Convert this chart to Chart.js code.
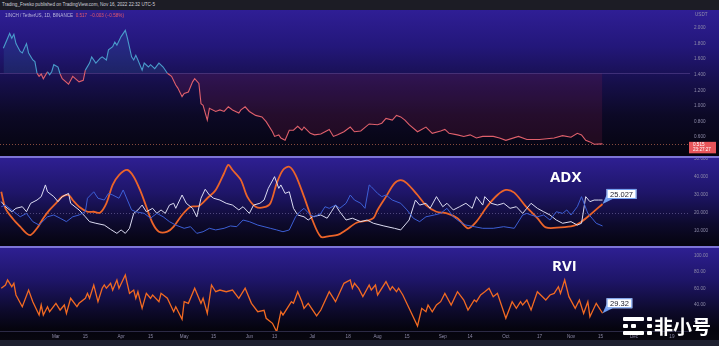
<!DOCTYPE html>
<html>
<head>
<meta charset="utf-8">
<script src="https://cdn.jsdelivr.net/npm/chart.js@4.4.0/dist/chart.umd.min.js"></script>
<style>
html, body { margin: 0; padding: 0; background: #0b0a14; }
#wrap { position: relative; width: 719px; height: 346px; overflow: hidden; background: #0b0a14;
        font-family: 'Liberation Sans', Arial, sans-serif; }
.pane { position: absolute; left: 0; width: 719px; }
#top { top: 0; height: 10px; background: #1c1c25; }
#p1 { top: 10px; height: 146px; background: linear-gradient(#2f1e95 0%, #23177a 25%, #160f4a 50%, #0c0926 72%, #05040e 100%); }
#p2 { top: 158px; height: 88px; background: linear-gradient(#2e1f92 0%, #1e1568 40%, #0d0a2c 75%, #05040e 100%); }
#p3 { top: 248px; height: 92px; background: linear-gradient(#2e1f92 0%, #1e1568 35%, #0d0a2c 68%, #05040e 88%, #08070f 100%); }
.sep { position: absolute; left: 0; width: 719px; height: 2px; background: #7d74d6; }
#bottom { top: 340px; height: 6px; background: #1e2030; }
.txt { position: absolute; white-space: nowrap; }
.title { position: absolute; color: #ffffff; font-family: 'Open Sans', sans-serif; font-weight: 700; font-size: 15px; }
#logo { position: absolute; left: 623px; top: 315px; width: 92px; height: 22px; }
#logo .b { position: absolute; background: #ffffff; border-radius: 1px; }
#logo .cn { position: absolute; left: 31px; top: -3px; color: #ffffff; font-family: 'Noto Sans CJK SC', sans-serif;
            font-weight: 700; font-size: 19px; letter-spacing: 0px; }
</style>
</head>
<body>
<div id="wrap">
  <div class="pane" id="top"></div>
  <div class="txt" style="left:2px;top:2px;font-size:4.6px;color:#d0d0da;">Trading_Fresko published on TradingView.com, Nov 16, 2022 22:32 UTC-5</div>
  <div class="pane" id="p1"><canvas id="c1" width="719" height="146"></canvas></div>
  <div class="sep" style="top:156px;"></div>
  <div class="pane" id="p2"><canvas id="c2" width="719" height="88"></canvas></div>
  <div class="sep" style="top:246px;"></div>
  <div class="pane" id="p3"><canvas id="c3" width="719" height="92"></canvas></div>
  <div class="pane" id="bottom"></div>
  <div class="txt" style="left:5px;top:13px;font-size:4.6px;color:#b9b5dc;">1INCH / TetherUS, 1D, BINANCE&nbsp;&nbsp;<span style="color:#e8596b;">0.517 &nbsp;−0.003 (−0.58%)</span></div>
  <div class="txt" style="left:695px;top:12px;font-size:4.6px;color:#8f8cab;">USDT</div>
  <div class="title" style="left:550px;top:166px;">ADX</div>
  <div class="title" style="left:552px;top:255px;">RVI</div>
  <div id="logo">
    <div class="b" style="left:0;top:2px;width:21px;height:4px;"></div>
    <div class="b" style="left:24px;top:2px;width:5px;height:4px;"></div>
    <div class="b" style="left:0;top:9px;width:5px;height:4px;"></div>
    <div class="b" style="left:8px;top:9px;width:5px;height:4px;"></div>
    <div class="b" style="left:24px;top:9px;width:5px;height:4px;"></div>
    <div class="b" style="left:0;top:16px;width:21px;height:4px;"></div>
    <div class="b" style="left:24px;top:16px;width:5px;height:4px;"></div>
    <div class="cn">非小号</div>
  </div>
</div>
<script>
// day numbers are days since Jan 1 2022 (Mar 1 = 59)
const priceDays = [34, 37, 38, 39, 40, 42, 43, 45, 46, 48, 49, 50, 51, 52, 53, 55, 56, 57, 58, 60, 61, 62, 65, 67, 70, 72, 73, 75, 76, 78,
  80, 81, 83, 84, 86, 87, 88, 90, 92, 93, 95, 96, 97, 98, 100, 101, 103, 104, 106, 108, 110, 112, 114, 116, 117, 119, 120, 122, 124, 125,
  127, 128, 129, 131, 132, 135, 137, 139, 141, 143, 146, 147, 149, 151, 154, 157, 159, 162, 163, 165, 166, 168, 170, 172, 174, 176, 177,
  180, 182, 185, 187, 189, 191, 193, 196, 199, 201, 204, 208, 212, 214, 216, 219, 221, 223, 225, 227, 231, 235, 238, 242, 244, 246, 250,
  253, 256, 259, 262, 267, 270, 273, 279, 283, 289, 296, 300, 304, 307, 309, 311, 313, 315, 319];
const priceValues = [1.74, 1.93, 1.87, 1.92, 1.80, 1.70, 1.68, 1.80, 1.68, 1.59, 1.57, 1.42, 1.38, 1.41, 1.35, 1.44, 1.40, 1.44, 1.53, 1.50,
  1.41, 1.35, 1.28, 1.38, 1.31, 1.33, 1.46, 1.55, 1.63, 1.55, 1.61, 1.63, 1.59, 1.72, 1.76, 1.82, 1.78, 1.89, 1.97, 1.87, 1.63, 1.59, 1.65,
  1.59, 1.46, 1.55, 1.50, 1.53, 1.48, 1.55, 1.50, 1.42, 1.38, 1.27, 1.23, 1.12, 1.16, 1.18, 1.31, 1.35, 1.29, 1.03, 1.01, 0.82, 0.97, 0.93,
  0.95, 0.93, 0.99, 0.95, 0.91, 0.95, 0.99, 0.93, 0.88, 0.86, 0.80, 0.67, 0.61, 0.63, 0.59, 0.56, 0.69, 0.69, 0.74, 0.69, 0.73, 0.65, 0.63,
  0.64, 0.67, 0.70, 0.61, 0.63, 0.67, 0.73, 0.67, 0.68, 0.77, 0.76, 0.78, 0.84, 0.82, 0.88, 0.86, 0.82, 0.76, 0.67, 0.73, 0.65, 0.68, 0.70,
  0.65, 0.63, 0.61, 0.63, 0.59, 0.61, 0.61, 0.59, 0.56, 0.61, 0.57, 0.57, 0.59, 0.62, 0.60, 0.65, 0.63, 0.56, 0.54, 0.51, 0.515];

const adxDays = [33, 35, 39, 42, 45, 47, 50, 53, 56, 59, 62, 65, 67, 70, 74, 77, 80, 83, 86, 89, 93, 96, 99, 102, 105, 108, 112, 115,
  119, 123, 127, 131, 135, 139, 141, 143, 147, 150, 154, 158, 161, 164, 167, 170, 173, 177, 181, 185, 189, 193, 197, 202, 207, 210, 212,
  216, 220, 223, 226, 231, 235, 240, 245, 250, 255, 259, 264, 269, 273, 277, 282, 288, 292, 299, 305, 309, 313, 319];
const adxValues = [31.8, 22.6, 16.1, 12.4, 8.7, 7.8, 11.5, 17.1, 21.7, 25.4, 29.1, 30.0, 27.2, 23.5, 20.7, 20.7, 20.2, 25.4, 35.6, 41.1,
  43.9, 40.2, 32.8, 23.5, 14.3, 9.6, 9.6, 12.4, 18.9, 23.5, 23.9, 28.2, 32.8, 42.1, 46.7, 43.9, 38.3, 29.1, 23.5, 23.2, 25.4, 36.5, 43.9,
  45.7, 41.1, 29.1, 16.1, 6.8, 7.2, 7.8, 10.6, 14.6, 15.7, 17.1, 21.7, 29.1, 36.5, 38.3, 36.5, 30.0, 24.4, 20.7, 19.8, 17.1, 11.5, 15.2,
  23.5, 30.0, 32.8, 31.3, 24.4, 17.1, 12.0, 12.0, 12.8, 15.2, 18.9, 25.027];

const diPlusDays = [33, 35, 38, 40, 43, 45, 47, 50, 52, 54, 55, 58, 60, 62, 65, 66, 70, 73, 75, 78, 82, 85, 88, 90, 92, 94, 96, 98, 100,
  102, 105, 107, 109, 111, 113, 115, 116, 119, 121, 124, 126, 128, 130, 132, 134, 137, 140, 143, 146, 148, 151, 153, 156, 158, 160, 163,
  165, 166, 168, 170, 172, 174, 177, 179, 181, 185, 188, 190, 192, 194, 197, 200, 204, 207, 210, 215, 220, 223, 227, 230, 232, 235, 237,
  240, 243, 245, 248, 251, 254, 257, 259, 262, 263, 266, 269, 272, 275, 278, 281, 283, 285, 288, 291, 294, 297, 300, 304, 307, 309, 311,
  313, 315, 317, 319];
const diPlusValues = [26.3, 23.5, 20.7, 22.6, 23.5, 20.7, 25.4, 27.2, 29.1, 35.6, 31.8, 29.1, 26.3, 29.1, 30.9, 25.4, 21.7, 17.9, 15.2,
  14.3, 13.3, 10.9, 8.7, 10.6, 8.7, 11.5, 19.8, 21.7, 24.4, 20.7, 22.6, 19.8, 21.7, 19.8, 24.4, 25.4, 22.6, 30.0, 25.4, 22.6, 17.9, 28.2,
  33.2, 30.0, 28.2, 27.2, 25.4, 24.4, 21.7, 23.5, 19.8, 24.4, 25.4, 27.2, 33.7, 40.2, 33.7, 35.6, 30.9, 31.8, 22.6, 18.9, 17.9, 16.1, 17.9,
  18.9, 17.1, 20.7, 24.4, 20.7, 16.1, 17.1, 15.2, 16.1, 14.3, 12.8, 11.5, 10.6, 16.1, 27.2, 24.4, 25.4, 22.6, 29.1, 23.5, 25.4, 21.7, 23.5,
  25.4, 22.6, 29.1, 24.4, 29.1, 25.4, 24.4, 25.4, 22.6, 23.5, 19.8, 22.6, 25.4, 22.6, 20.7, 18.9, 16.1, 14.3, 15.2, 13.3, 14.3, 29.1, 26.3,
  27.2, 27.2, 27.2];

const diMinusDays = [33, 35, 39, 42, 45, 48, 51, 55, 58, 61, 64, 67, 70, 73, 74, 77, 79, 82, 84, 86, 89, 91, 93, 95, 97, 101, 104, 107,
  110, 113, 116, 120, 123, 126, 129, 132, 135, 139, 142, 145, 148, 151, 155, 158, 161, 164, 167, 170, 173, 175, 177, 180, 182, 185, 187,
  189, 192, 194, 197, 199, 201, 204, 206, 208, 209, 212, 214, 216, 219, 223, 226, 229, 232, 235, 239, 242, 245, 248, 251, 254, 258, 262,
  267, 272, 277, 281, 283, 285, 288, 291, 294, 297, 300, 302, 304, 307, 309, 312, 314, 316, 319];
const diMinusValues = [23.5, 24.4, 20.7, 17.9, 19.8, 15.2, 13.3, 17.9, 18.9, 17.1, 15.2, 17.9, 18.9, 20.7, 28.2, 31.8, 28.2, 27.2, 30.9,
  30.0, 28.2, 32.8, 27.2, 21.7, 20.7, 19.8, 17.1, 19.8, 17.9, 15.2, 13.3, 11.5, 12.4, 8.7, 9.6, 11.5, 10.6, 11.5, 12.8, 12.4, 16.1, 15.2,
  13.3, 12.4, 11.5, 10.6, 9.6, 10.6, 17.9, 20.7, 22.6, 18.9, 17.9, 19.8, 23.5, 22.6, 24.4, 22.6, 25.4, 30.0, 27.2, 25.4, 22.6, 35.6, 34.6,
  30.9, 29.1, 30.0, 27.2, 25.4, 21.7, 17.1, 15.2, 17.9, 18.9, 19.8, 22.6, 17.9, 15.2, 13.3, 12.4, 11.5, 11.5, 12.4, 11.5, 18.9, 19.8, 18.9,
  17.9, 18.9, 16.1, 20.7, 19.8, 21.7, 18.9, 23.5, 29.1, 19.8, 17.1, 14.3, 12.8];

const rviDays = [33, 35, 36, 38, 39, 40, 43, 46, 48, 51, 52, 53, 55, 56, 59, 61, 63, 64, 66, 69, 70, 73, 74, 75, 77, 79, 81, 82, 83, 85,
  86, 88, 89, 92, 94, 96, 97, 98, 100, 102, 104, 105, 108, 109, 112, 115, 116, 119, 120, 122, 125, 128, 129, 131, 133, 135, 137, 140, 143,
  146, 149, 152, 155, 158, 159, 162, 164, 166, 167, 169, 171, 172, 174, 176, 177, 179, 183, 185, 189, 192, 196, 199, 200, 201, 203, 205,
  208, 209, 211, 212, 216, 218, 219, 221, 222, 224, 227, 231, 233, 235, 236, 238, 240, 242, 244, 247, 250, 253, 255, 258, 259, 261, 263,
  265, 267, 269, 273, 276, 278, 280, 281, 283, 285, 288, 292, 294, 296, 298, 299, 301, 303, 306, 308, 310, 312, 313, 316, 319];
const rviValues = [60.2, 64.2, 70.4, 62.1, 66.3, 51.9, 37.4, 58.0, 43.6, 27.2, 39.5, 27.2, 37.4, 31.2, 41.6, 33.3, 39.5, 29.2, 47.8, 37.4,
  41.6, 47.8, 53.9, 47.8, 64.2, 43.6, 60.2, 64.2, 60.2, 66.3, 58.0, 70.4, 60.2, 76.5, 53.9, 58.0, 47.8, 55.9, 35.4, 53.9, 47.8, 51.9, 43.6,
  53.9, 47.8, 31.2, 37.4, 21.9, 43.6, 41.6, 60.2, 41.6, 47.8, 29.2, 64.2, 55.9, 58.0, 55.9, 58.0, 47.8, 60.2, 41.6, 31.2, 33.0, 23.1, 16.9,
  6.5, 31.2, 27.2, 35.4, 43.6, 41.6, 55.9, 43.6, 35.4, 41.6, 26.0, 33.3, 55.9, 43.6, 66.3, 70.4, 60.2, 66.3, 60.0, 49.8, 64.2, 58.0, 64.2,
  51.9, 68.3, 58.0, 62.1, 55.9, 60.2, 51.9, 35.4, 13.6, 35.4, 31.2, 39.5, 31.2, 39.5, 43.6, 53.9, 39.5, 55.9, 45.7, 33.3, 45.7, 43.6, 51.9,
  55.9, 60.2, 49.8, 53.9, 23.1, 43.6, 35.4, 43.6, 39.5, 45.7, 33.3, 55.9, 45.7, 51.9, 53.9, 62.1, 53.9, 70.4, 49.8, 35.4, 45.7, 29.2, 43.6,
  25.1, 41.6, 29.32];

const timeTickDays = [59, 73, 90, 104, 120, 134, 151, 163, 181, 198, 212, 226, 243, 256, 273, 289, 304, 318, 334, 352];
const timeTickLabels = ['Mar', '15', 'Apr', '15', 'May', '15', 'Jun', '13', 'Jul', '18', 'Aug', '15', 'Sep', '14', 'Oct', '17', 'Nov', '15', 'Dec', '19'];

const priceTicks = [0.6, 0.8, 1.0, 1.2, 1.4, 1.6, 1.8, 2.0];
const adxTicks = [10, 20, 30, 40, 50];
const rviTicks = [20, 40, 60, 80, 100];

const priceBaseline = 1.42;
const lastPrice = 0.515;
const countdown = '23:27:27';
const adxLevel = 20;

const xMin = 32.4, xMax = 360.6;
const axisColor = '#8e8ba9';
const family = "'Liberation Sans', Arial, sans-serif";

// horizontal levels, price tag on the axis and value callouts
const paneDecor = {
    id: 'paneDecor',
    beforeDatasetsDraw(chart, args, opts) {
        const ctx = chart.ctx, ys = chart.scales.y, area = chart.chartArea;
        (opts.lines || []).forEach(l => {
            const py = Math.round(ys.getPixelForValue(l.value)) + 0.5;
            ctx.save();
            ctx.strokeStyle = l.color;
            ctx.lineWidth = 1;
            ctx.setLineDash(l.dash || []);
            ctx.beginPath();
            ctx.moveTo(area.left, py);
            ctx.lineTo(area.right, py);
            ctx.stroke();
            ctx.restore();
        });
    },
    afterDraw(chart, args, opts) {
        const ctx = chart.ctx, ys = chart.scales.y, area = chart.chartArea;
        if (opts.tag) {
            const py = ys.getPixelForValue(opts.tag.value);
            ctx.save();
            ctx.fillStyle = '#e8555a';
            ctx.fillRect(area.right - 1, py - 2, 27, 11.5);
            ctx.fillStyle = '#ffffff';
            ctx.font = '4.6px ' + family;
            ctx.textBaseline = 'middle';
            ctx.fillText(opts.tag.value.toFixed(3), area.right + 3, py + 1);
            ctx.fillText(opts.tag.sub, area.right + 3, py + 6);
            ctx.restore();
        }
        if (opts.callout) {
            const meta = chart.getDatasetMeta(opts.callout.dataset);
            const pt = meta.data[meta.data.length - 1];
            const text = opts.callout.text;
            ctx.save();
            ctx.font = '7.5px ' + family;
            const w = ctx.measureText(text).width + 7, h = 10;
            const bx = pt.x + 4, by = pt.y - 5 - h;
            ctx.fillStyle = '#6f9cf0';
            ctx.beginPath();
            ctx.moveTo(pt.x, pt.y);
            ctx.lineTo(bx, by + h - 4);
            ctx.lineTo(bx + 6, by + h);
            ctx.closePath();
            ctx.fill();
            ctx.fillStyle = '#ffffff';
            ctx.fillRect(bx, by, w, h);
            ctx.strokeStyle = '#6f9cf0';
            ctx.lineWidth = 1;
            ctx.strokeRect(bx + 0.5, by + 0.5, w - 1, h - 1);
            ctx.fillStyle = '#1b1b2a';
            ctx.textBaseline = 'middle';
            ctx.fillText(text, bx + 3.5, by + h / 2 + 0.5);
            ctx.restore();
        }
    }
};

function paneOptions(o) {
    return {
        responsive: false,
        animation: false,
        events: [],
        layout: { padding: 0 },
        plugins: {
            legend: { display: false },
            tooltip: { enabled: false },
            paneDecor: o.decor
        },
        scales: {
            x: {
                type: 'linear',
                min: xMin,
                max: xMax,
                display: o.showX,
                grid: { display: false, drawTicks: false },
                border: { display: o.showX, color: '#2c2a45' },
                afterBuildTicks: s => { s.ticks = timeTickDays.map(v => ({ value: v })); },
                afterFit: s => { s.paddingLeft = 0; s.paddingRight = 0; if (o.showX) s.height = 9; },
                ticks: {
                    color: axisColor,
                    font: { size: 4.6, family: family },
                    padding: 3,
                    maxRotation: 0,
                    autoSkip: false,
                    callback: v => timeTickLabels[timeTickDays.indexOf(v)]
                }
            },
            y: {
                position: 'right',
                min: o.min,
                max: o.max,
                grid: { display: false, drawTicks: false },
                border: { display: false },
                afterBuildTicks: s => { s.ticks = o.ticks.map(v => ({ value: v })); },
                afterFit: s => { s.width = 29; s.paddingTop = 0; s.paddingBottom = 0; },
                ticks: {
                    color: axisColor,
                    font: { size: 4.6, family: family },
                    padding: 4,
                    callback: v => v.toFixed(o.dp)
                }
            }
        }
    };
}

const pairs = (days, vals) => days.map((d, i) => ({ x: d, y: vals[i] }));

new Chart(document.getElementById('c1'), {
    type: 'line',
    data: {
        datasets: [{
            data: pairs(priceDays, priceValues),
            borderWidth: 1.1,
            pointRadius: 0,
            tension: 0,
            borderColor: '#e0606c',
            segment: {
                borderColor: c => ((c.p0.parsed.y + c.p1.parsed.y) / 2 >= priceBaseline ? '#4a9ccc' : '#e0606c')
            },
            fill: {
                target: { value: priceBaseline },
                above: 'rgba(60, 150, 190, 0.14)',
                below: 'rgba(170, 40, 80, 0.16)'
            }
        }]
    },
    options: paneOptions({
        min: 0.359, max: 2.231, ticks: priceTicks, dp: 3, showX: false,
        decor: {
            lines: [
                { value: priceBaseline, color: 'rgba(150, 120, 200, 0.3)' },
                { value: lastPrice, color: 'rgba(220, 120, 90, 0.6)', dash: [1, 2] }
            ],
            tag: { value: lastPrice, sub: countdown }
        }
    }),
    plugins: [paneDecor]
});

new Chart(document.getElementById('c2'), {
    type: 'line',
    data: {
        datasets: [
            { data: pairs(diMinusDays, diMinusValues), borderColor: '#3d5fd6', borderWidth: 1, pointRadius: 0, tension: 0 },
            { data: pairs(diPlusDays, diPlusValues), borderColor: '#dcdcf2', borderWidth: 1, pointRadius: 0, tension: 0 },
            { data: pairs(adxDays, adxValues), borderColor: '#ec6429', borderWidth: 1.8, pointRadius: 0, tension: 0.3 }
        ]
    },
    options: paneOptions({
        min: 1.67, max: 50.56, ticks: adxTicks, dp: 3, showX: false,
        decor: {
            lines: [{ value: adxLevel, color: 'rgba(150, 140, 200, 0.45)', dash: [1, 2] }],
            callout: { dataset: 2, text: '25.027' }
        }
    }),
    plugins: [paneDecor]
});

new Chart(document.getElementById('c3'), {
    type: 'line',
    data: {
        datasets: [
            { data: pairs(rviDays, rviValues), borderColor: '#f26a22', borderWidth: 1.3, pointRadius: 0, tension: 0 }
        ]
    },
    options: paneOptions({
        min: 7.4, max: 109.9, ticks: rviTicks, dp: 2, showX: true,
        decor: {
            lines: [],
            callout: { dataset: 0, text: '29.32' }
        }
    }),
    plugins: [paneDecor]
});
</script>
</body>
</html>
